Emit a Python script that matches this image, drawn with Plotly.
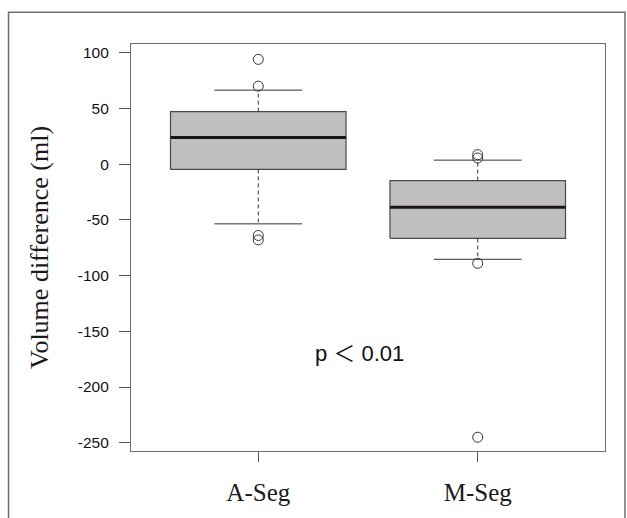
import plotly.graph_objects as go

# ---- data ----
categories = ["A-Seg", "M-Seg"]
q1 = [-4.7, -66.6]
median = [23.8, -38.7]
q3 = [47.1, -14.8]
lower_whisker = [-53.6, -85.4]
upper_whisker = [66.4, 3.6]
outliers = [[94, 70, -64, -68], [8.5, 5.5, -89, -245]]
y_ticks = [100, 50, 0, -50, -100, -150, -200, -250]
y_ticklabels = [str(v) for v in y_ticks]

BOXW = 0.4   # half box width
CAPW = 0.2   # half cap width
EDGE = "#4a4a4a"

fig = go.Figure()
for i, cat in enumerate(categories):
    xc = i + 1
    fig.add_trace(go.Scatter(
        x=[xc - BOXW, xc + BOXW, xc + BOXW, xc - BOXW, xc - BOXW],
        y=[q1[i], q1[i], q3[i], q3[i], q1[i]],
        mode="lines", fill="toself", fillcolor="#bfbfbf",
        line=dict(color=EDGE, width=1.2), hoverinfo="skip", showlegend=False))
    fig.add_trace(go.Scatter(
        x=[xc - BOXW, xc + BOXW], y=[median[i], median[i]],
        mode="lines", line=dict(color="#1c1414", width=3),
        hoverinfo="skip", showlegend=False))
    for a, b in [(q3[i], upper_whisker[i]), (q1[i], lower_whisker[i])]:
        fig.add_trace(go.Scatter(
            x=[xc, xc], y=[a, b], mode="lines",
            line=dict(color="#333333", width=1, dash="4px,3px"),
            hoverinfo="skip", showlegend=False))
    for v in [upper_whisker[i], lower_whisker[i]]:
        fig.add_trace(go.Scatter(
            x=[xc - CAPW, xc + CAPW], y=[v, v], mode="lines",
            line=dict(color="#333333", width=1),
            hoverinfo="skip", showlegend=False))
    fig.add_trace(go.Scatter(
        x=[xc] * len(outliers[i]), y=outliers[i], mode="markers",
        marker=dict(symbol="circle-open", size=10, color="#333333",
                    line=dict(width=1)),
        showlegend=False))

fig.add_annotation(
    x=1.46, y=-170, xref="x", yref="y", text="p ＜ 0.01", showarrow=False,
    font=dict(family="Liberation Sans, Noto Sans CJK JP", size=22, color="#111111"))

# outer frame
fig.add_shape(type="rect", xref="paper", yref="paper",
              x0=-0.2584, x1=1.0422, y0=-0.2, y1=1.0782,
              line=dict(color="#6e6e6e", width=1.5))

fig.update_layout(
    width=627, height=518,
    margin=dict(l=131, r=22, t=44, b=65),
    paper_bgcolor="white", plot_bgcolor="white",
    xaxis=dict(
        range=[0.42, 2.58], tickmode="array", tickvals=[1, 2], ticktext=categories,
        showgrid=False, zeroline=False, showline=True, mirror=True,
        linecolor="#6e6e6e", linewidth=1.2, ticks="outside", ticklen=10,
        tickcolor="#555555", ticklabelstandoff=9,
        tickfont=dict(family="Liberation Serif", size=25, color="#1a1a1a")),
    yaxis=dict(
        range=[-257.4, 107.8], tickmode="array", tickvals=y_ticks,
        ticktext=y_ticklabels,
        showgrid=False, zeroline=False, showline=True, mirror=True,
        linecolor="#6e6e6e", linewidth=1.2, ticks="outside", ticklen=11,
        tickcolor="#555555", ticklabelstandoff=7,
        tickfont=dict(family="Liberation Sans", size=15.5, color="#111111"),
        title=dict(text="Volume difference (ml)", standoff=21,
                   font=dict(family="Liberation Serif", size=26, color="#1a1a1a"))),
)

fig.write_html("out.html", config={"displayModeBar": False},
               post_script="document.body.style.margin='0';document.body.style.overflow='hidden';")
